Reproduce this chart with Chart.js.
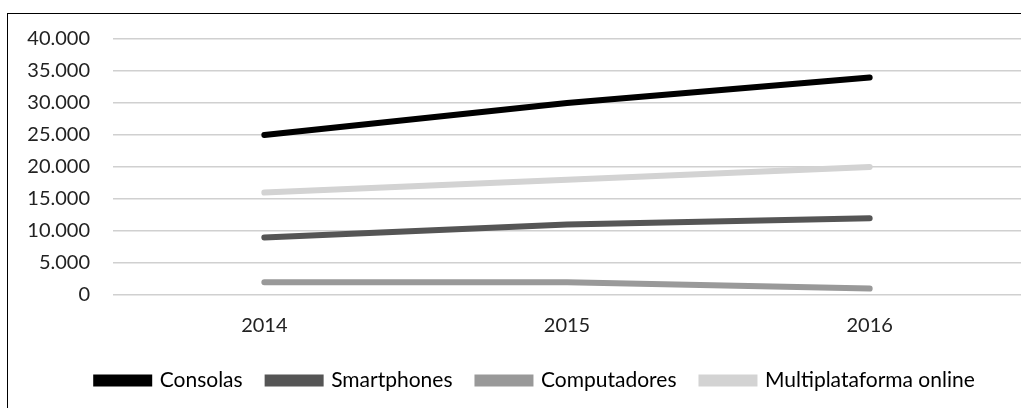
<!DOCTYPE html>
<html>
<head>
<meta charset="utf-8">
<script src="https://cdn.jsdelivr.net/npm/chart.js@4"></script>
<style>
  html, body { margin: 0; padding: 0; background: #fff; overflow: hidden; }
  #wrap { position: relative; width: 1021px; height: 408px; }
  #frame { position: absolute; left: 7px; top: 13px; width: 1100px; height: 500px; border: 1px solid #000; box-sizing: border-box; }
  canvas { position: absolute; left: 0; top: 0; }
</style>
</head>
<body>
<div id="wrap">
  <div id="frame"></div>
  <canvas id="lineChart" width="1021" height="408"></canvas>
</div>
<script>
// data
var years = ["2014", "2015", "2016"];
var consolas = [25000, 30000, 34000];
var smartphones = [9000, 11000, 12000];
var computadores = [2000, 2000, 1000];
var multiplataforma = [16000, 18000, 20000];

var seriesNames = ["Consolas", "Smartphones", "Computadores", "Multiplataforma online"];
var seriesColors = ["#000000", "#555555", "#999999", "#d3d3d3"];
var seriesData = [consolas, smartphones, computadores, multiplataforma];

function fmt(v) {
  return v === 0 ? "0" : v.toLocaleString("de-DE");
}

// legend in the original sits a bit right of the canvas centre
var shiftLegend = {
  id: "shiftLegend",
  afterLayout: function (chart) {
    chart.legend.left += 25;
    chart.legend.right += 25;
  }
};

var ctx = document.getElementById("lineChart").getContext("2d");
var chart = new Chart(ctx, {
  type: "line",
  data: {
    labels: years,
    datasets: seriesNames.map(function (name, i) {
      return {
        label: name,
        data: seriesData[i],
        borderColor: seriesColors[i],
        backgroundColor: seriesColors[i],
        borderWidth: 6,
        borderCapStyle: "round",
        pointRadius: 0,
        tension: 0,
        fill: false
      };
    })
  },
  options: {
    responsive: false,
    animation: false,
    layout: { padding: { top: 39, right: 0, bottom: 7, left: 0 } },
    plugins: {
      tooltip: { enabled: false },
      legend: {
        position: "bottom",
        labels: {
          color: "#000",
          font: { family: "Lato", size: 21 },
          boxWidth: 53,
          boxHeight: 6,
          padding: 25
        }
      }
    },
    scales: {
      x: {
        offset: true,
        grid: { display: false },
        border: { display: false },
        ticks: { color: "#222", font: { family: "Lato", size: 20 }, padding: 11 },
        afterFit: function (s) { s.height = 50; }
      },
      y: {
        min: 0,
        max: 40000,
        border: { display: false },
        grid: { color: "#d0d0d0", lineWidth: 1.5, drawTicks: false },
        ticks: {
          stepSize: 5000,
          color: "#222",
          font: { family: "Lato", size: 20 },
          padding: 23,
          callback: function (v) { return fmt(v); }
        },
        afterFit: function (s) { s.width = 113; }
      }
    }
  },
  plugins: [shiftLegend]
});
</script>
</body>
</html>
